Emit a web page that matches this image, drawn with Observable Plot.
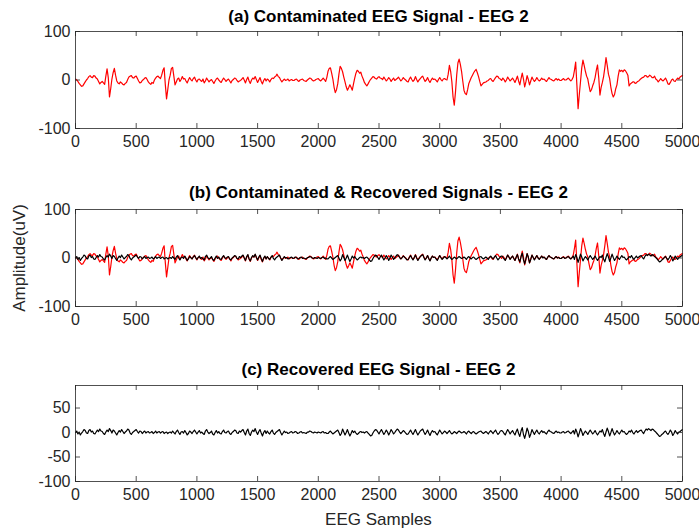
<!DOCTYPE html>
<html><head><meta charset="utf-8">
<script src="https://cdn.jsdelivr.net/npm/d3@7"></script>
<script src="https://cdn.jsdelivr.net/npm/@observablehq/plot@0.6"></script>
<style>
body{margin:0;background:#fff;overflow:hidden;}
#chart{position:relative;width:699px;height:531px;font-family:"Liberation Sans",Arial,Helvetica,sans-serif;color:#262626;}
#chart svg{position:absolute;left:0;}
.title{position:absolute;left:75px;width:607px;text-align:center;font-weight:bold;font-size:17px;color:#000;line-height:20px;}
.lab{position:absolute;font-size:17px;color:#262626;line-height:20px;white-space:nowrap;}
</style></head><body><div id="chart"></div><script>
// sample step between stored points
const step = 10;
// contaminated EEG (red), one value every 10 samples, 0..5000
const contaminated = [
2,0,-3,-7,-10,-13,-12,-8,-4,0,3,7,9,6,5,9,8,4,2,-3,
-8,-5,-3,-6,-9,8,23,5,-35,-18,2,15,24,10,-2,-6,-8,-4,-6,-9,
-10,-7,-5,1,6,8,9,5,4,7,8,3,-2,-6,-5,-1,1,4,5,1,
-4,-7,-9,-5,-7,0,4,7,8,5,3,10,20,25,-10,-39,-20,0,10,24,
26,8,-10,-4,2,4,-3,1,7,2,3,-2,-6,0,5,1,-2,3,6,0,
-4,1,2,-1,-3,2,-6,-2,4,0,-4,-1,1,-3,-7,-2,2,4,0,-3,
-5,0,4,1,-3,0,2,-2,-6,-1,1,4,3,-1,-4,-2,-1,2,5,0,
-6,1,6,-2,-7,0,4,2,7,1,-5,0,5,-3,-8,-1,3,-2,2,0,
-4,1,4,3,6,8,12,7,5,0,-4,-1,2,-1,0,2,-2,0,1,-1,
-1,1,2,-1,-3,0,1,2,-1,-2,-3,0,2,4,3,0,-2,-1,1,2,
3,0,-2,1,4,1,-3,5,18,24,25,14,2,-15,-26,-20,-8,12,28,24,
17,6,-4,-14,-21,-16,-10,-15,-21,-8,4,14,20,18,14,16,8,2,-5,-9,
-12,-8,-3,1,4,7,6,3,2,5,7,4,3,1,6,2,-2,1,5,2,
-3,1,4,-1,1,3,6,2,-2,1,5,2,0,-3,-4,2,6,1,-3,0,
7,1,-4,0,3,6,8,2,-3,0,5,-1,-5,0,4,1,2,-1,-4,1,
5,1,-2,2,3,1,0,12,30,18,-3,-35,-52,-25,10,35,43,32,18,-2,
-21,-28,-30,-20,-7,-1,5,10,15,19,22,15,7,-3,-12,-9,-6,-5,-4,-2,
-1,2,3,-1,-3,1,5,8,7,3,2,-1,4,1,-4,0,6,2,-2,1,
4,0,-5,1,8,-2,-10,3,14,2,-14,-4,9,1,-10,-2,6,1,-3,0,
5,1,-2,0,4,1,2,-1,-3,1,5,2,1,-1,-2,1,3,0,2,-1,
-1,1,3,0,0,2,4,1,-2,1,6,20,37,-10,-59,-30,-3,25,41,30,
18,8,2,-12,-24,-20,-12,-5,5,20,31,5,-31,-15,-5,7,25,46,30,12,
3,-15,-28,-35,-30,-18,-10,8,21,18,20,17,21,19,15,10,-12,-8,-6,-4,
-4,-7,-6,-3,-2,1,3,5,6,9,9,6,7,10,8,5,5,8,2,0,
-4,-1,3,0,-2,1,4,-1,-8,-9,-5,0,2,-2,-3,1,4,2,6,8,
9
];
// recovered EEG (black), one value every 10 samples, 0..5000
const recovered = [
0,3,-3,1,-5,-1,2,6,4,-1,-2,4,6,1,3,-2,-3,1,5,2,
7,3,2,-2,-4,1,5,2,8,4,-1,5,3,-1,-5,0,4,1,6,2,
-2,1,3,7,5,-1,-4,0,2,4,6,2,-1,3,2,-2,1,3,-1,1,
2,-1,0,2,-2,0,3,-1,1,2,-1,1,2,-2,0,1,-2,0,1,-1,
3,0,-3,2,5,0,-4,1,2,-1,4,0,-5,-2,3,1,-2,2,5,1,
-3,1,4,-1,1,-2,-4,3,6,1,-2,0,3,-3,-5,0,4,-1,2,-2,
-3,2,5,0,-1,2,3,-2,-4,0,2,5,4,-1,-2,3,1,4,6,0,
-5,3,7,-2,-6,1,5,2,8,1,-4,2,6,-1,-7,0,4,-2,3,-1,
-3,2,5,-1,-4,0,2,4,6,0,-5,-1,3,0,1,-2,-1,1,2,-1,
0,2,1,-2,-1,1,2,-1,0,-1,-2,1,1,3,2,0,-1,1,0,-1,
1,0,-1,1,2,-1,0,-2,-2,1,3,0,-3,-1,1,3,5,0,-6,-2,
7,1,-5,0,6,-1,-7,-2,4,0,3,-1,-4,-2,1,2,0,1,-1,1,
2,-1,-4,-7,-6,-1,3,6,5,1,-3,2,6,1,-4,0,5,1,-5,0,
6,2,-3,0,4,7,5,1,-2,1,4,2,-1,-4,-3,1,5,0,-4,1,
6,0,-5,-1,3,5,7,1,-4,0,5,-1,-6,0,4,1,2,-2,-5,0,
5,1,-3,0,3,1,-2,1,4,0,-3,-1,2,0,-2,1,3,1,-1,0,
2,0,-3,1,3,0,-2,1,2,-1,-3,-1,1,2,3,0,-2,0,2,0,
-3,1,4,1,-2,2,5,0,-4,-1,3,4,2,-2,-5,1,6,2,-3,1,
4,-1,-5,2,7,-2,-8,3,10,-4,-12,-2,9,2,-10,-3,6,1,-4,1,
5,0,-3,1,4,0,2,-1,-3,2,5,2,1,-1,-2,1,3,0,1,-1,
-1,1,2,-1,0,2,3,0,-2,1,4,-3,7,1,-9,-1,8,2,-6,-1,
3,0,-4,1,5,1,-3,0,4,-1,-5,-1,3,1,6,-2,-8,1,9,2,
-7,0,8,1,-5,-1,4,0,-3,1,5,1,2,-2,-4,-1,3,1,5,0,
-3,1,4,0,2,4,5,1,-2,3,7,5,8,6,4,7,6,3,1,-2,
-5,-8,-7,-4,-2,1,3,-1,-4,0,5,1,-6,-2,4,0,-3,1,2,4,
6
];
const xTicks = [0,500,1000,1500,2000,2500,3000,3500,4000,4500,5000];
const yTicksAB = [-100,0,100];
const yTicksC = [-100,-50,0,50];
const titles = [
  "(a) Contaminated EEG Signal - EEG 2",
  "(b) Contaminated & Recovered Signals - EEG 2",
  "(c) Recovered EEG Signal - EEG 2"
];
const xLabel = "EEG Samples";
const yLabel = "Amplitude(uV)";

const contData = contaminated.map((v,i)=>({s:i*step, v}));
const recData = recovered.map((v,i)=>({s:i*step, v}));

const chart = document.getElementById("chart");
const W = 699, ML = 75, MR = 17;

function panel({top, H, mt, mb, yDomain, yTicks, lines}) {
  const innerW = W - ML - MR;
  const innerH = H - mt - mb;
  const p = Plot.plot({
    width: W, height: H,
    marginLeft: ML, marginRight: MR, marginTop: mt, marginBottom: mb,
    style: {fontSize: "16px", fontFamily: '"Liberation Sans", Arial, sans-serif', color: "#262626", background: "transparent", overflow: "visible"},
    x: {domain: [0, 5000]},
    y: {domain: yDomain},
    marks: [
      ...lines.map(l => Plot.line(l.data, {x: "s", y: "v", stroke: l.color, strokeWidth: 1.2})),
      Plot.tickX(xTicks, {x: d=>d, insetTop: innerH - 5, stroke: "#262626", strokeWidth: 0.8}),
      Plot.tickX(xTicks, {x: d=>d, insetBottom: innerH - 5, stroke: "#262626", strokeWidth: 0.8}),
      Plot.tickY(yTicks, {y: d=>d, insetRight: innerW - 5, stroke: "#262626", strokeWidth: 0.8}),
      Plot.tickY(yTicks, {y: d=>d, insetLeft: innerW - 5, stroke: "#262626", strokeWidth: 0.8}),
      Plot.frame({stroke: "#262626", strokeWidth: 0.8}),
      Plot.axisX({ticks: xTicks, tickSize: 0, tickPadding: 7, label: null, tickFormat: d=>String(d)}),
      Plot.axisY({ticks: yTicks, tickSize: 0, tickPadding: 5, label: null, tickFormat: d=>String(d)})
    ]
  });
  p.style.top = top + "px";
  chart.appendChild(p);
}

panel({top: 0, H: 160, mt: 31, mb: 32, yDomain: [-100,100], yTicks: yTicksAB,
  lines: [{data: contData, color: "#ff0000"}]});
panel({top: 178, H: 160, mt: 31, mb: 32, yDomain: [-100,100], yTicks: yTicksAB,
  lines: [{data: contData, color: "#ff0000"}, {data: recData, color: "#000000"}]});
panel({top: 354, H: 160, mt: 31, mb: 33, yDomain: [-100,96], yTicks: yTicksC,
  lines: [{data: recData, color: "#000000"}]});

const titleTops = [7, 183, 360];
titles.forEach((t,i)=>{
  const d = document.createElement("div");
  d.className = "title"; d.textContent = t; d.style.top = titleTops[i] + "px";
  chart.appendChild(d);
});
const xl = document.createElement("div");
xl.className = "lab"; xl.textContent = xLabel;
xl.style.left = "75px"; xl.style.width = "607px"; xl.style.textAlign = "center"; xl.style.top = "510px";
chart.appendChild(xl);
const yl = document.createElement("div");
yl.className = "lab"; yl.textContent = yLabel;
yl.style.left = "20px"; yl.style.top = "258px";
yl.style.transform = "translate(-50%,-50%) rotate(-90deg)";
chart.appendChild(yl);
</script></body></html>
